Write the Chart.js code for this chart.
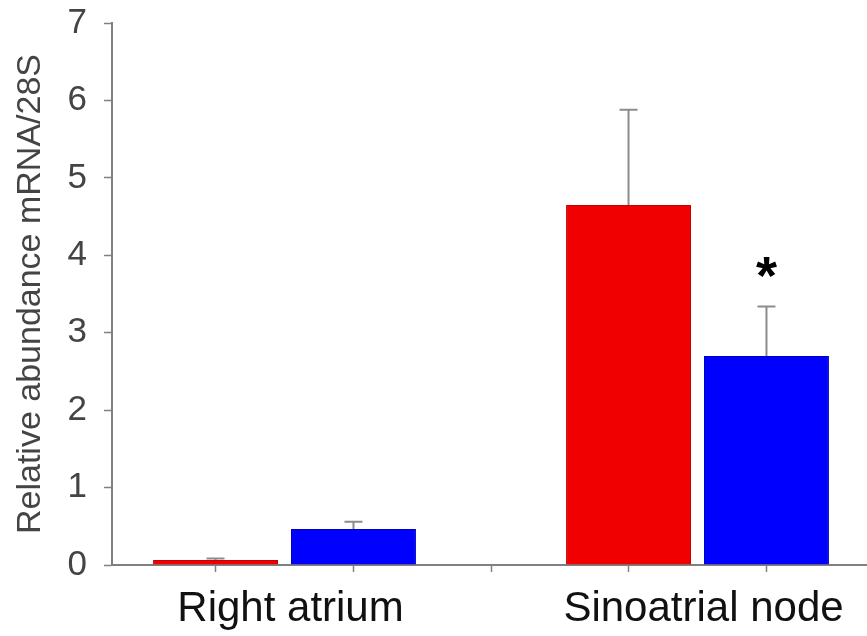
<!DOCTYPE html>
<html>
<head>
<meta charset="utf-8">
<script src="https://cdn.jsdelivr.net/npm/chart.js@4"></script>
<style>
  html, body { margin: 0; padding: 0; background: #fff; }
  #wrap { width: 867px; height: 636px; }
</style>
</head>
<body>
<div id="wrap"><canvas id="barChart"></canvas></div>
<script>
// data
const categories = ['Right atrium', 'Sinoatrial node'];
const redValues = [0.065, 4.65];
const redErrors = [0.02, 1.23];
const blueValues = [0.465, 2.70];
const blueErrors = [0.095, 0.64];
const yTicks = [0, 1, 2, 3, 4, 5, 6, 7];
const sigMarks = [{ dataset: 1, index: 1, y: 3.84, text: '*' }];

const CAT_PCT = 0.668;
const BAR_PCT = 0.906;
const X_MIN = 0.5823, X_MAX = 2.408;
const FONT = 'Arial, "Liberation Sans", sans-serif';

// x positions of groups are 1..n on a linear axis
const toPoints = vals => vals.map((v, i) => ({ x: i + 1, y: v }));
const errors = [redErrors, blueErrors];

const errorBars = {
    id: 'errorBars',
    afterDatasetsDraw(chart) {
        const ctx = chart.ctx;
        const yScale = chart.scales.y;
        ctx.save();
        ctx.strokeStyle = '#8c8c8c';
        ctx.lineWidth = 2;
        chart.data.datasets.forEach((ds, d) => {
            const meta = chart.getDatasetMeta(d);
            meta.data.forEach((bar, i) => {
                const top = yScale.getPixelForValue(ds.data[i].y + errors[d][i]);
                ctx.beginPath();
                ctx.moveTo(bar.x, bar.y);
                ctx.lineTo(bar.x, top);
                ctx.moveTo(bar.x - 9, top);
                ctx.lineTo(bar.x + 9, top);
                ctx.stroke();
            });
        });
        // significance marks
        ctx.fillStyle = '#000';
        ctx.font = 'bold 54px ' + FONT;
        ctx.textAlign = 'center';
        ctx.textBaseline = 'middle';
        sigMarks.forEach(m => {
            const bar = chart.getDatasetMeta(m.dataset).data[m.index];
            ctx.fillText(m.text, bar.x, yScale.getPixelForValue(m.y) + 11);
        });
        ctx.restore();
    }
};

// minor tick marks under each bar and between the groups
function minorTickValues() {
    const off = CAT_PCT / 4;
    const t = [];
    categories.forEach((c, i) => {
        t.push(i + 1 - off, i + 1 + off);
        if (i < categories.length - 1) t.push(i + 1.5);
    });
    return t;
}

const ctx = document.getElementById('barChart').getContext('2d');
const chart = new Chart(ctx, {
    type: 'bar',
    data: {
        datasets: [{
            data: toPoints(redValues),
            backgroundColor: '#f00000',
            borderColor: '#c80000',
            borderWidth: 1,
            categoryPercentage: CAT_PCT,
            barPercentage: BAR_PCT
        }, {
            data: toPoints(blueValues),
            backgroundColor: '#0000ff',
            borderColor: '#0000c0',
            borderWidth: 1,
            categoryPercentage: CAT_PCT,
            barPercentage: BAR_PCT
        }]
    },
    options: {
        responsive: true,
        maintainAspectRatio: false,
        animation: false,
        layout: { padding: { top: 23, right: 1, bottom: 0, left: 0 } },
        plugins: { legend: { display: false }, tooltip: { enabled: false } },
        scales: {
            x: {
                type: 'linear',
                offset: false,
                min: X_MIN,
                max: X_MAX,
                afterFit: s => { s.height = 71; s.paddingLeft = 0; s.paddingRight = 0; },
                afterBuildTicks: s => { s.ticks = categories.map((c, i) => ({ value: i + 1 })); },
                border: { display: true, color: '#808080', width: 2 },
                grid: {
                    display: true,
                    offset: false,
                    drawOnChartArea: false,
                    drawTicks: true,
                    tickLength: 7,
                    tickColor: 'rgba(0,0,0,0)'
                },
                ticks: {
                    autoSkip: false,
                    maxRotation: 0,
                    padding: 12,
                    labelOffset: 6,
                    color: '#111',
                    font: { family: FONT, size: 42 },
                    callback: v => categories[v - 1] || ''
                }
            },
            xMinor: {
                type: 'linear',
                position: 'bottom',
                weight: -1,
                offset: false,
                min: X_MIN,
                max: X_MAX,
                afterFit: s => { s.height = 0; s.paddingLeft = 0; s.paddingRight = 0; },
                afterBuildTicks: s => { s.ticks = minorTickValues().map(v => ({ value: v })); },
                border: { display: false },
                grid: {
                    display: true,
                    offset: false,
                    drawOnChartArea: false,
                    drawTicks: true,
                    tickLength: 7,
                    tickWidth: 1.5,
                    tickColor: '#808080'
                },
                ticks: { display: false }
            },
            y: {
                min: 0,
                max: 7,
                afterFit: s => { s.width = 112; s.paddingTop = 0; s.paddingBottom = 0; },
                afterBuildTicks: s => { s.ticks = yTicks.map(v => ({ value: v })); },
                border: { display: true, color: '#808080', width: 2 },
                grid: {
                    display: true,
                    drawOnChartArea: false,
                    drawTicks: true,
                    tickLength: 8,
                    tickWidth: 1.5,
                    tickColor: '#808080'
                },
                ticks: {
                    padding: 17,
                    color: '#444',
                    font: { family: FONT, size: 35 }
                },
                title: {
                    display: true,
                    text: 'Relative abundance mRNA/28S',
                    color: '#444',
                    padding: { top: 10, bottom: 0 },
                    font: { family: FONT, size: 34 }
                }
            }
        }
    },
    plugins: [errorBars]
});
</script>
</body>
</html>
